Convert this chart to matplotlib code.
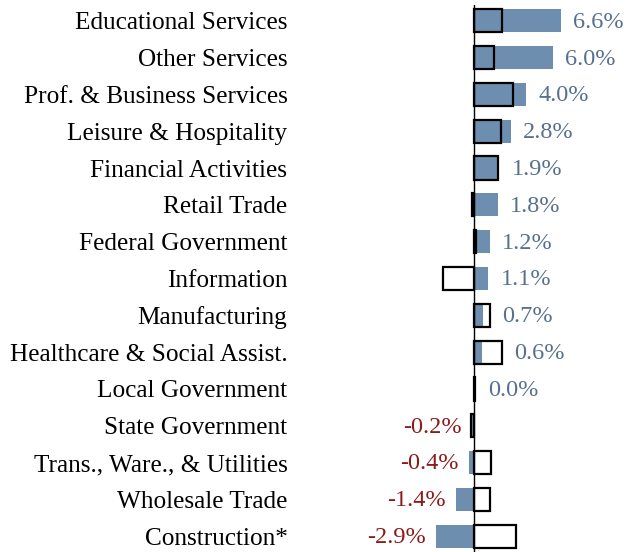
import matplotlib.pyplot as plt

categories = ["Educational Services", "Other Services", "Prof. & Business Services",
              "Leisure & Hospitality", "Financial Activities", "Retail Trade",
              "Federal Government", "Information", "Manufacturing",
              "Healthcare & Social Assist.", "Local Government", "State Government",
              "Trans., Ware., & Utilities", "Wholesale Trade", "Construction*"]
current = [6.6, 6.0, 4.0, 2.8, 1.9, 1.8, 1.2, 1.1, 0.7, 0.6, 0.0, -0.2, -0.4, -1.4, -2.9]
prior = [2.1, 1.5, 3.0, 2.05, 1.8, -0.15, 0.15, -2.4, 1.2, 2.1, 0.1, -0.2, 1.3, 1.2, 3.2]

plt.rcParams['font.family'] = ['Liberation Serif', 'DejaVu Serif']

fig = plt.figure(figsize=(6.3, 5.52), dpi=100)
ax = fig.add_axes([300 / 630, 0, 330 / 630, 547 / 552])

y = list(range(len(categories)))
ax.barh(y, current, height=0.63, color="#6D8EAF", zorder=1)
ax.barh(y, prior, height=0.63, fill=False, edgecolor="black", linewidth=1.6, zorder=2)
ax.axvline(0, color="black", linewidth=1.0, zorder=3)

for i, v in enumerate(current):
    if v >= 0:
        end = max(v, prior[i], 0)
        ax.annotate(f"{v:.1f}%", (end, i), xytext=(9, -1), textcoords="offset points",
                    ha="left", va="center", fontsize=17.5, color="#56708E")
    else:
        end = min(v, prior[i], 0)
        ax.annotate(f"{v:.1f}%", (end, i), xytext=(-7, -1), textcoords="offset points",
                    ha="right", va="center", fontsize=17.5, color="#8B1A1A")

ax.set_xlim(-13.28, 11.9)
ax.set_ylim(14.43, -0.43)
ax.set_yticks(y)
ax.set_yticklabels(categories, fontsize=18.2)
ax.tick_params(axis="y", length=0, pad=9)
ax.set_xticks([])
for s in ax.spines.values():
    s.set_visible(False)

fig.savefig("out.png", dpi=100)
